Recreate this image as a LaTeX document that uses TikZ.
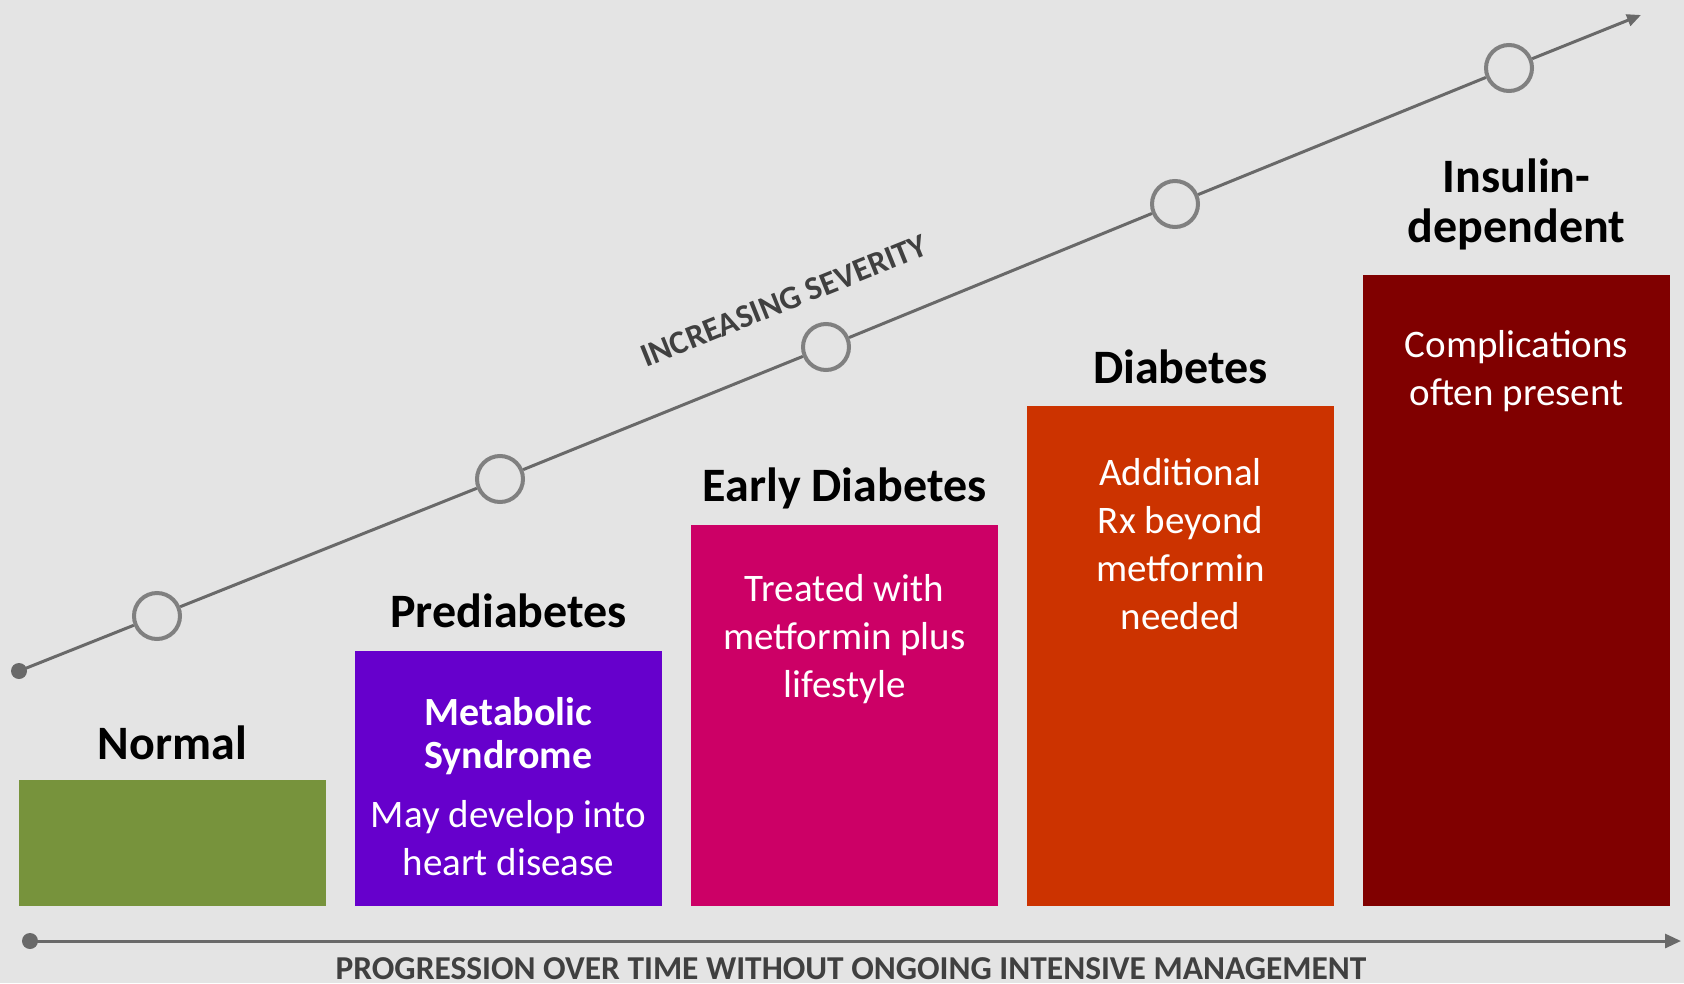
\documentclass[tikz,border=0pt]{standalone}
\usepackage{fontspec}
\setmainfont{Carlito}
\usetikzlibrary{arrows.meta}
\definecolor{bg}{HTML}{E4E4E4}
\definecolor{axisgray}{HTML}{696969}
\definecolor{markgray}{HTML}{808080}
\definecolor{labelgray}{HTML}{404040}
\definecolor{cnormal}{HTML}{77933C}
\definecolor{cpre}{HTML}{6600CC}
\definecolor{cearly}{HTML}{CC0066}
\definecolor{cdiab}{HTML}{CC3300}
\definecolor{cinsulin}{HTML}{800000}
\begin{document}
\begin{tikzpicture}[x=1pt,y=-1pt,
  stagebox/.style={draw=none, inner sep=0pt, outer sep=0pt, minimum width=307pt, anchor=south west},
  heading/.style={font=\fontsize{48}{50}\selectfont\bfseries, text=black, align=center},
  boxtext/.style={font=\fontsize{39}{48}\selectfont, text=white, align=center},
  boxhead/.style={font=\fontsize{40}{43}\selectfont\bfseries, text=white, align=center},
  marker/.style={circle, draw=markgray, line width=4pt, minimum size=46pt, inner sep=0pt, fill=none},
  axisline/.style={draw=axisgray, line width=3pt},
  enddot/.style={circle, fill=axisgray, minimum size=16pt, inner sep=0pt},
  axislabel/.style={font=\fontsize{33.4}{36}\selectfont\bfseries, text=labelgray}
]
% canvas
\fill[bg] (0,0) rectangle (1684,983);

% stage columns
\node[stagebox, fill=cnormal,  minimum height=126pt] (normal)   at (19,906) {};
\node[stagebox, fill=cpre,     minimum height=255pt] (pre)      at (355,906) {};
\node[stagebox, fill=cearly,   minimum height=381pt] (early)    at (691,906) {};
\node[stagebox, fill=cdiab,    minimum height=500pt] (diab)     at (1027,906) {};
\node[stagebox, fill=cinsulin, minimum height=631pt] (insulin)  at (1363,906) {};

% stage headings
\node[heading] (hnormal)  at (172.5,743) {Normal};
\node[heading] (hpre)     at (508.5,611) {Prediabetes};
\node[heading] (hearly)   at (844.5,488) {Early Diabetes};
\node[heading] (hdiab)    at (1180.5,367) {Diabetes};
\node[heading] (hinsulin) at (1516.5,204) {Insulin-\\dependent};

% column texts
\node[boxhead] (tpre1)    at (508.5,736) {Metabolic\\Syndrome};
\node[boxhead, boxtext] (tpre2) at (508.5,838) {May develop into\\heart disease};
\node[boxtext] (tearly)   at (844.5,639) {Treated with\\metformin plus\\lifestyle};
\node[boxtext] (tdiab)    at (1180.5,544) {Additional\\Rx beyond\\metformin\\needed};
\node[boxtext] (tinsulin) at (1516.5,371) {Complications\\often present};

% severity line
\node[enddot] (sstart) at (19,671) {};
\node[marker] (m1) at (157,616) {};
\node[marker] (m2) at (500,479) {};
\node[marker] (m3) at (826,347) {};
\node[marker] (m4) at (1175,204) {};
\node[marker] (m5) at (1509,68) {};
\coordinate (send) at (1641,15);
\draw[axisline] (sstart.center) -- (m1);
\draw[axisline] (m1) -- (m2);
\draw[axisline] (m2) -- (m3);
\draw[axisline] (m3) -- (m4);
\draw[axisline] (m4) -- (m5);
\draw[axisline, -{Triangle[length=14pt,width=12pt]}] (m5) -- (send);
\node[axislabel, font=\fontsize{33}{36}\selectfont\bfseries, rotate=21.9] (sev) at (784,301) {INCREASING SEVERITY};

% time axis
\node[enddot] (tstart) at (30,941) {};
\coordinate (tend) at (1681,941);
\draw[axisline, -{Triangle[length=16pt,width=14pt]}] (tstart.center) -- (tend);
\node[axislabel, anchor=base] (time) at (851,979) {PROGRESSION OVER TIME WITHOUT ONGOING INTENSIVE MANAGEMENT};
\end{tikzpicture}
\end{document}
